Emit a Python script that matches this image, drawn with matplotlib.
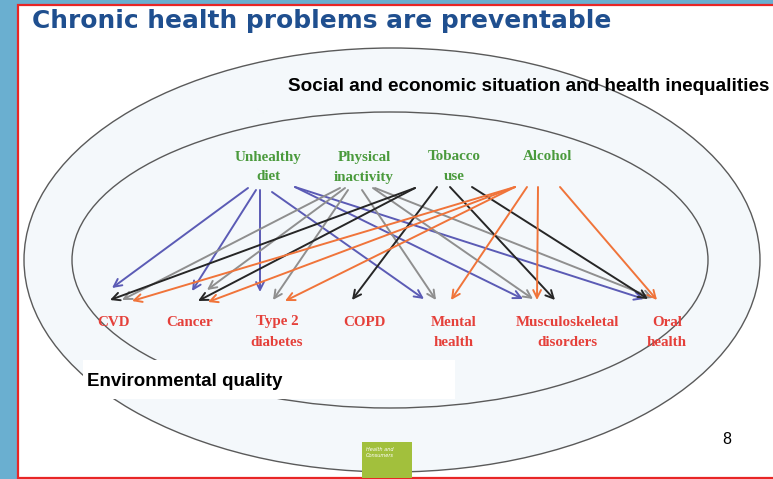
import matplotlib
matplotlib.use("Agg")
import matplotlib.pyplot as plt
from matplotlib.patches import Ellipse, Rectangle

# risk factors and the chronic problems they lead to
risk_factors = ["Unhealthy\ndiet", "Physical\ninactivity", "Tobacco\nuse", "Alcohol"]
problems = ["CVD", "Cancer", "Type 2\ndiabetes", "COPD", "Mental\nhealth",
            "Musculoskeletal\ndisorders", "Oral\nhealth"]
links = {
    0: [0, 1, 2, 4, 5, 6],
    1: [0, 1, 2, 4, 5, 6],
    2: [0, 1, 3, 5, 6],
    3: [0, 1, 2, 4, 5, 6],
}
title = "Chronic health problems are preventable"
outer_label = "Social and economic situation and health inequalities"
inner_label = "Environmental quality"

# layout (pixel space)
rf_x = [268, 364, 454, 548]
pr_x = [113, 190, 277, 364, 454, 567, 667]
rf_colors = ["#5b5bb5", "#8f8f8f", "#262626", "#f0743a"]
# arrow start / end points for each (risk, problem) pair
arrow_pts = {
    (0, 0): ((248, 188), (112, 288)), (0, 1): ((256, 190), (192, 291)),
    (0, 2): ((260, 190), (260, 292)), (0, 4): ((272, 192), (424, 299)),
    (0, 5): ((295, 187), (523, 299)), (0, 6): ((295, 187), (644, 299)),
    (1, 0): ((340, 188), (122, 300)), (1, 1): ((345, 188), (207, 290)),
    (1, 2): ((348, 190), (273, 300)), (1, 4): ((362, 190), (436, 300)),
    (1, 5): ((373, 188), (533, 299)), (1, 6): ((375, 188), (653, 298)),
    (2, 0): ((415, 188), (110, 300)), (2, 1): ((415, 188), (198, 301)),
    (2, 3): ((437, 187), (352, 300)), (2, 5): ((450, 187), (555, 300)),
    (2, 6): ((472, 187), (648, 299)),
    (3, 0): ((515, 187), (132, 301)), (3, 1): ((515, 187), (208, 302)),
    (3, 2): ((515, 187), (285, 301)), (3, 4): ((527, 187), (451, 300)),
    (3, 5): ((538, 187), (537, 300)), (3, 6): ((560, 187), (657, 300)),
}

fig = plt.figure(figsize=(7.73, 4.79), dpi=100, facecolor="#6aafd0")
ax = fig.add_axes([0, 0, 1, 1])
ax.set_xlim(0, 773)
ax.set_ylim(479, 0)
ax.axis("off")

# slide page with red border
ax.add_patch(Rectangle((17.5, 5), 765, 472.5, facecolor="white",
                       edgecolor="#e82626", lw=1.6, zorder=0))

# the two context ellipses
ax.add_patch(Ellipse((392, 260), 736, 424, facecolor="#f4f8fb",
                     edgecolor="#5a5a5a", lw=1.0, zorder=1))
ax.add_patch(Ellipse((390, 260), 636, 296, facecolor="none",
                     edgecolor="#5a5a5a", lw=1.0, zorder=1))
ax.add_patch(Rectangle((83, 360), 372, 39, facecolor="white",
                       edgecolor="none", zorder=2))

ax.text(32, 20.5, title, fontsize=17.9, fontweight="bold", color="#1f4f8f",
        family="DejaVu Sans", va="center", ha="left", zorder=5)
ax.text(288, 86, outer_label, fontsize=13.6, fontweight="bold", color="black",
        family="Liberation Sans", va="center", ha="left", zorder=5)
ax.text(87, 382, inner_label, fontsize=13.5, fontweight="bold", color="black",
        family="Liberation Sans", va="center", ha="left", zorder=5)

serif = dict(family="Liberation Serif", fontweight="bold", fontsize=10.8,
             ha="center", va="center", zorder=5)
for name, x in zip(risk_factors, rf_x):
    for i, line in enumerate(name.split("\n")):
        ax.text(x, 157 + 20 * i, line, color="#4a9a3c", **serif)
for name, x in zip(problems, pr_x):
    for i, line in enumerate(name.split("\n")):
        ax.text(x, 322 + 20 * i, line, color="#e5403a", **serif)

for src, dests in links.items():
    for d in dests:
        (x0, y0), (x1, y1) = arrow_pts[(src, d)]
        ax.annotate("", xy=(x1, y1), xytext=(x0, y0), zorder=4,
                    arrowprops=dict(arrowstyle="->", color=rf_colors[src],
                                    lw=1.4, shrinkA=0, shrinkB=0,
                                    mutation_scale=14))

# footer
ax.add_patch(Rectangle((362, 442), 50, 36, facecolor="#a2c03c",
                       edgecolor="none", zorder=3))
ax.text(366, 447, "Health and\nConsumers", fontsize=3.6, style="italic",
        color="white", va="top", ha="left", zorder=5, linespacing=1.2)
ax.text(727, 440, "8", fontsize=11.5, color="black", family="Liberation Sans",
        va="center", ha="center", zorder=5)

fig.savefig("out.png", dpi=100, facecolor=fig.get_facecolor())
